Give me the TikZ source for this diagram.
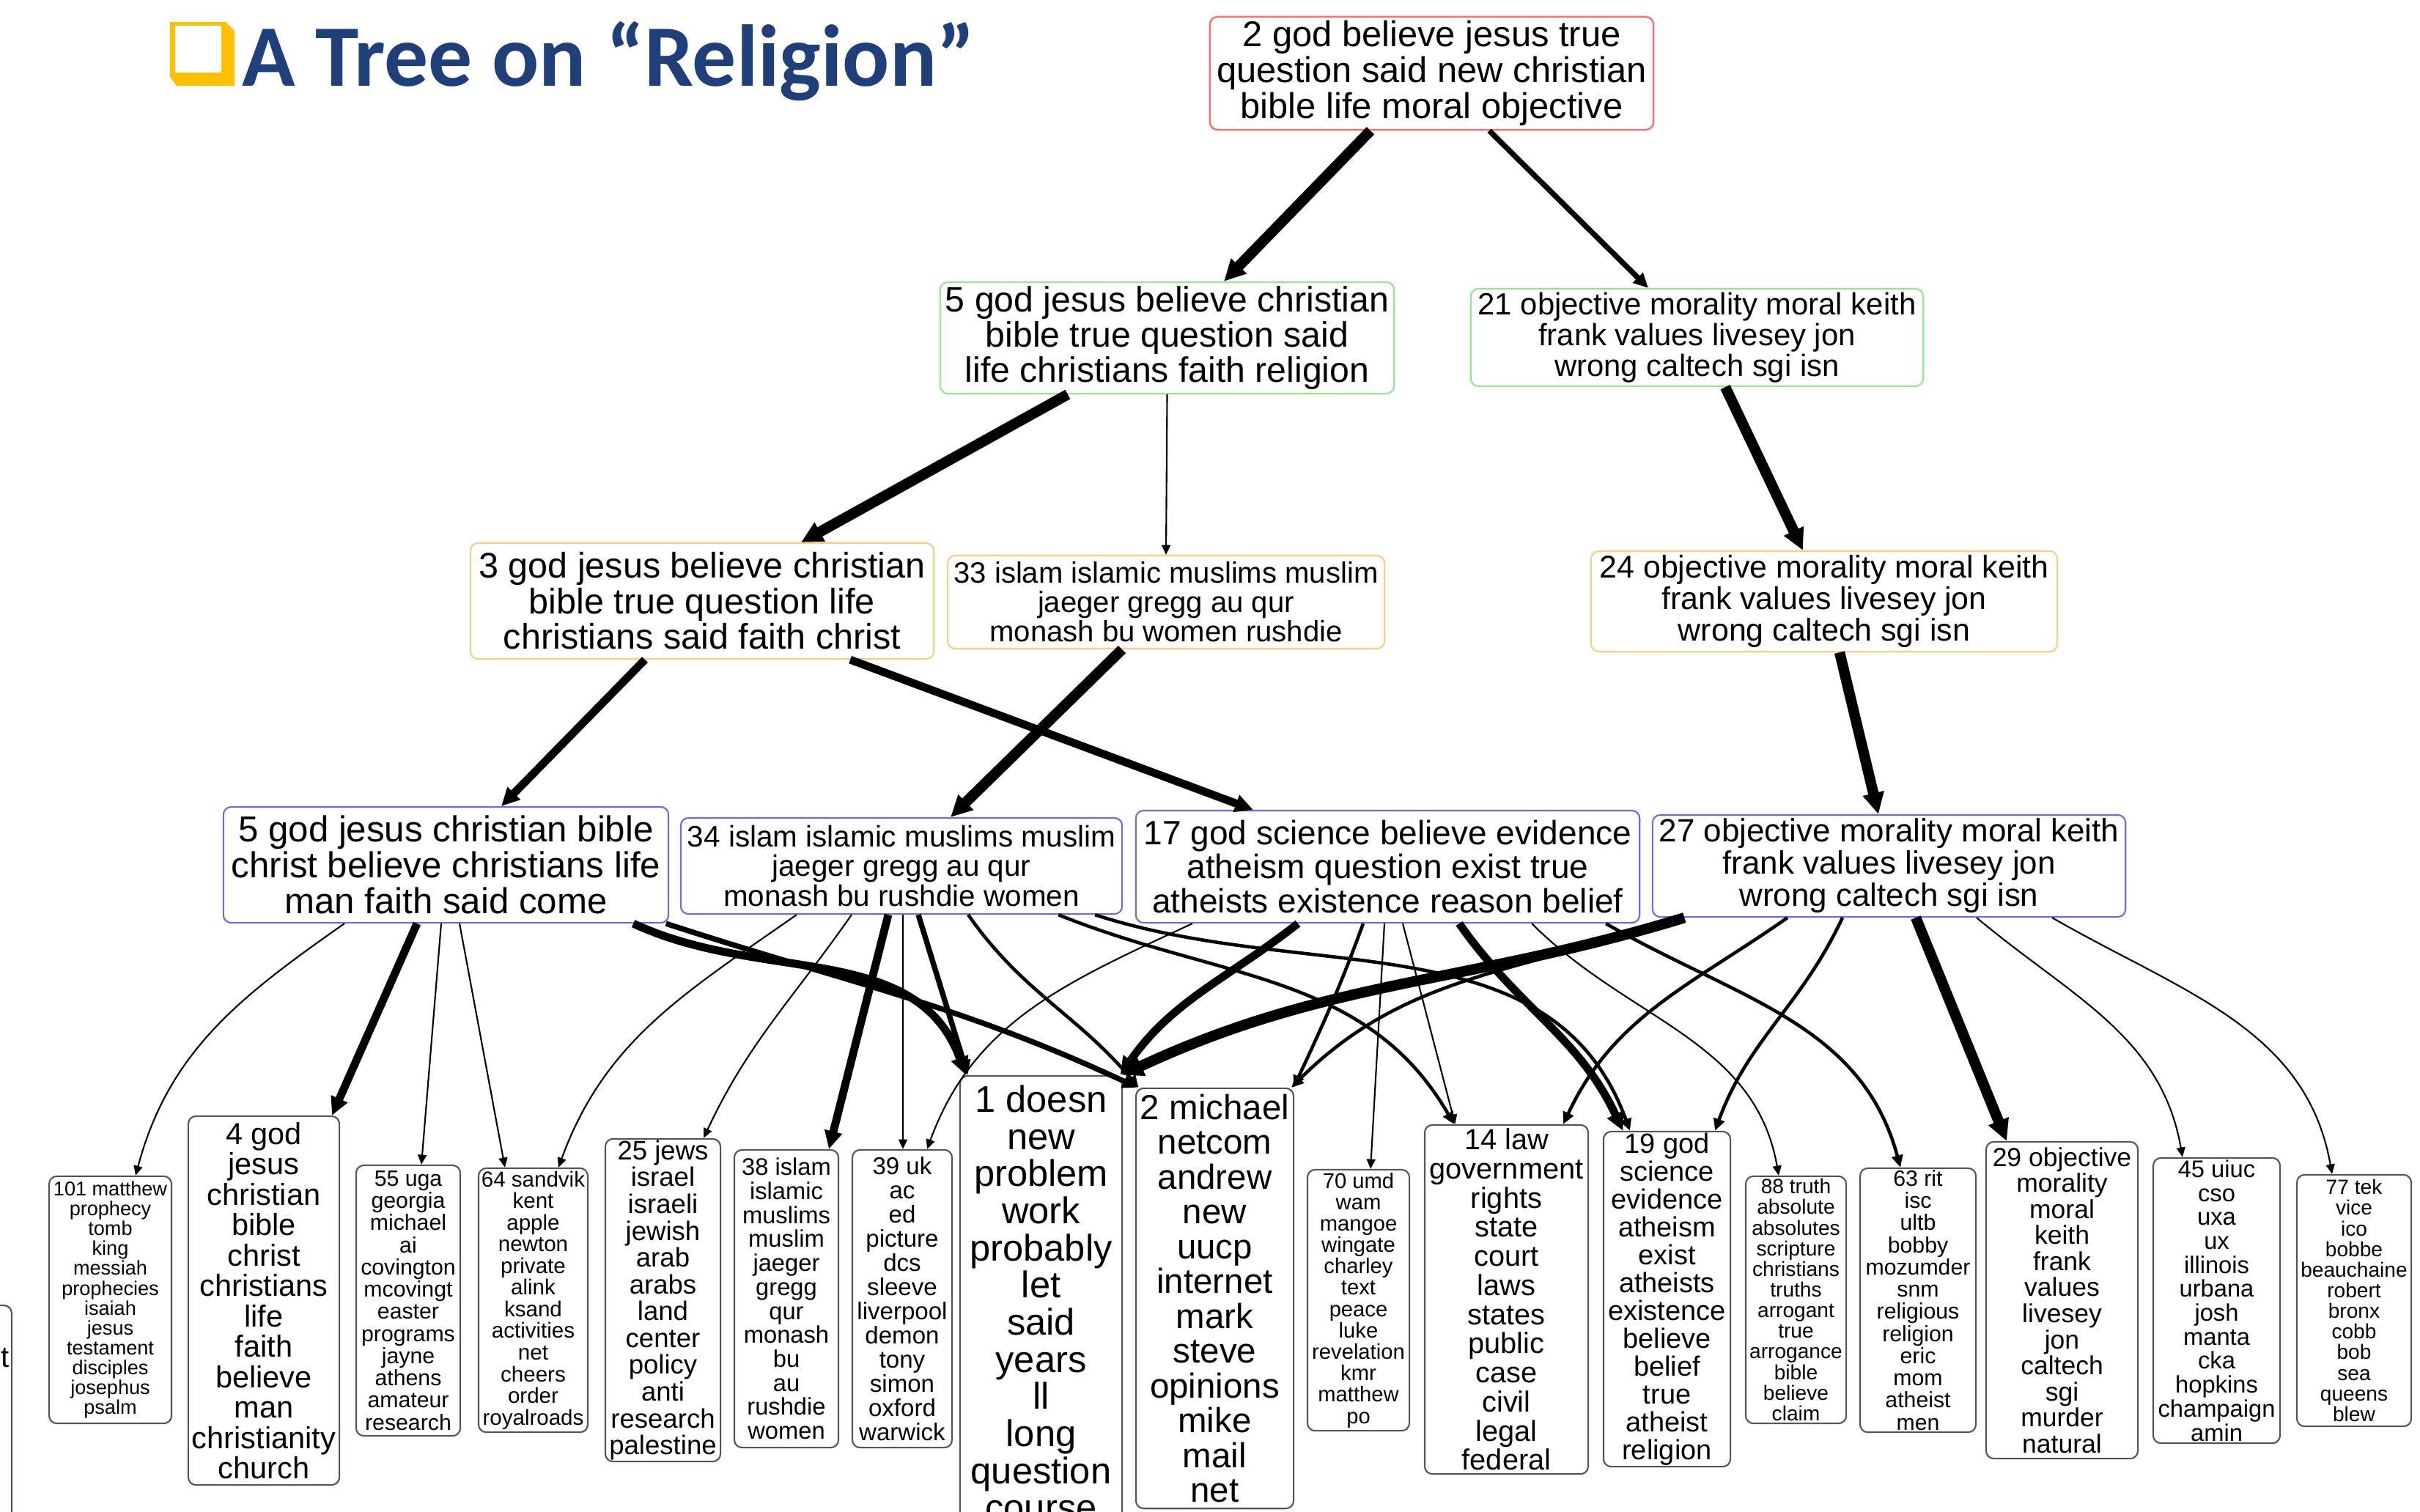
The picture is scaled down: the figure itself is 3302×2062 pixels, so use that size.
\documentclass[tikz,border=0pt]{standalone}
\usepackage{fontspec}
\setmainfont{Liberation Sans}
\newfontfamily\titlefont{Carlito}
\usetikzlibrary{arrows.meta}
\definecolor{titleblue}{RGB}{31,63,122}
\definecolor{iconyellow}{RGB}{255,192,0}
\definecolor{rootred}{RGB}{255,110,110}
\definecolor{midgreen}{RGB}{140,235,140}
\definecolor{midorange}{RGB}{250,205,130}
\definecolor{lowblue}{RGB}{105,105,245}
\definecolor{leafgray}{RGB}{85,85,85}
\newcommand{\fz}[1]{\fontsize{#1}{#1}\selectfont}

\begin{document}
\begin{tikzpicture}[x=0.01cm, y=-0.01cm,
  box/.style={draw, rounded corners=3pt, align=center, line width=0.6pt},
  toprow/.style={box, draw=rootred, line width=0.7pt},
  tworow/.style={box, draw=midgreen},
  threerow/.style={box, draw=midorange},
  fourrow/.style={box, draw=lowblue},
  leaf/.style={box, draw=leafgray},
  link1/.style={line width=0.6pt, -{Triangle[length=3pt 1.3, width=2.6pt 1.3]}},
  link2/.style={line width=1.3pt, -{Triangle[length=3pt 1.3, width=2.6pt 1.3]}},
  link3/.style={line width=2.1pt, -{Triangle[length=3pt 1.3, width=2.6pt 1.3]}},
  link4/.style={line width=3.1pt, -{Triangle[length=3pt 1.3, width=2.6pt 1.3]}},
  link5/.style={line width=4.1pt, -{Triangle[length=3pt 1.3, width=2.6pt 1.3]}}]
\tikzstyle{every node}+=[inner sep=0pt]
\useasboundingbox (0,0) rectangle (3302,2062);
\fill[white] (0,0) rectangle (3302,2062);

% title
\fill[iconyellow] (232,30) -- (308,30) -- (320,42) -- (320,117) -- (241,117) -- (232,105) -- cycle;
\fill[white] (239,35) rectangle (302,99);
\node[anchor=base west, text=titleblue, font=\titlefont\bfseries\fontsize{34}{40}\selectfont] (title) at (330,117) {A Tree on “Religion”};

% inner clusters
\node[toprow, font=\fz{13.9}, minimum width=6.05cm, minimum height=1.54cm] (n2) at (1953.5,100) {2 god believe jesus true\\question said new christian\\bible life moral objective};
\node[tworow, font=\fz{13.7}, minimum width=6.19cm, minimum height=1.52cm] (n5a) at (1592.5,461) {5 god jesus believe christian\\bible true question said\\life christians faith religion};
\node[tworow, font=\fz{11.9}, minimum width=6.17cm, minimum height=1.33cm] (n21) at (2315.5,460.5) {21 objective morality moral keith\\frank values livesey jon\\wrong caltech sgi isn};
\node[threerow, font=\fz{13.8}, minimum width=6.32cm, minimum height=1.58cm] (n3) at (958,820) {3 god jesus believe christian\\bible true question life\\christians said faith christ};
\node[threerow, font=\fz{11.4}, minimum width=5.96cm, minimum height=1.27cm] (n33) at (1591,821.5) {33 islam islamic muslims muslim\\jaeger gregg au qur\\monash bu women rushdie};
\node[threerow, font=\fz{12.2}, minimum width=6.36cm, minimum height=1.37cm] (n24) at (2489,820.5) {24 objective morality moral keith\\frank values livesey jon\\wrong caltech sgi isn};
\node[fourrow, font=\fz{14}, minimum width=6.07cm, minimum height=1.58cm] (n5b) at (608.5,1180) {5 god jesus christian bible\\christ believe christians life\\man faith said come};
\node[fourrow, font=\fz{11.5}, minimum width=6.02cm, minimum height=1.31cm] (n34) at (1230,1181.5) {34 islam islamic muslims muslim\\jaeger gregg au qur\\monash bu rushdie women};
\node[fourrow, font=\fz{13.1}, minimum width=6.87cm, minimum height=1.53cm] (n17) at (1893.5,1182.5) {17 god science believe evidence\\atheism question exist true\\atheists existence reason belief};
\node[fourrow, font=\fz{12.5}, minimum width=6.45cm, minimum height=1.39cm] (n27) at (2577.5,1181.5) {27 objective morality moral keith\\frank values livesey jon\\wrong caltech sgi isn};

% leaf clusters
\node[leaf, anchor=north east, minimum width=2cm, minimum height=3.2cm] (lx) at (17,1780) {};
\node[font=\fz{11.4}, anchor=east] (lxt) at (13,1853) {t};
\node[leaf, font=\fz{7.7}, minimum width=1.67cm, minimum height=3.37cm] (l101) at (150.5,1773.5) {101 matthew\\prophecy\\tomb\\king\\messiah\\prophecies\\isaiah\\jesus\\testament\\disciples\\josephus\\psalm};
\node[leaf, font=\fz{11.8}, minimum width=2.06cm, minimum height=5.03cm] (l4) at (360,1774.5) {4 god\\jesus\\christian\\bible\\christ\\christians\\life\\faith\\believe\\man\\christianity\\church};
\node[leaf, font=\fz{8.6}, minimum width=1.42cm, minimum height=3.69cm] (l55) at (557,1774.5) {55 uga\\georgia\\michael\\ai\\covington\\mcovingt\\easter\\programs\\jayne\\athens\\amateur\\research};
\node[leaf, font=\fz{8.4}, minimum width=1.49cm, minimum height=3.6cm] (l64) at (727.5,1774) {64 sandvik\\kent\\apple\\newton\\private\\alink\\ksand\\activities\\net\\cheers\\order\\royalroads};
\node[leaf, font=\fz{10.4}, minimum width=1.57cm, minimum height=4.4cm] (l25) at (904.5,1774) {25 jews\\israel\\israeli\\jewish\\arab\\arabs\\land\\center\\policy\\anti\\research\\palestine};
\node[leaf, font=\fz{9.3}, minimum width=1.42cm, minimum height=4.06cm] (l38) at (1073,1772) {38 islam\\islamic\\muslims\\muslim\\jaeger\\gregg\\qur\\monash\\bu\\au\\rushdie\\women};
\node[leaf, font=\fz{9.4}, minimum width=1.36cm, minimum height=4.06cm] (l39) at (1231,1772) {39 uk\\ac\\ed\\picture\\dcs\\sleeve\\liverpool\\demon\\tony\\simon\\oxford\\warwick};
\node[leaf, font=\fz{14.4}, minimum width=2.21cm, minimum height=6.2cm] (l1) at (1420.5,1778) {1 doesn\\new\\problem\\work\\probably\\let\\said\\years\\ll\\long\\question\\course};
\node[leaf, font=\fz{13.5}, minimum width=2.15cm, minimum height=5.73cm] (l2) at (1657.5,1771.5) {2 michael\\netcom\\andrew\\new\\uucp\\internet\\mark\\steve\\opinions\\mike\\mail\\net};
\node[leaf, font=\fz{8.3}, minimum width=1.39cm, minimum height=3.56cm] (l70) at (1853.5,1774) {70 umd\\wam\\mangoe\\wingate\\charley\\text\\peace\\luke\\revelation\\kmr\\matthew\\po};
\node[leaf, font=\fz{11.3}, minimum width=2.23cm, minimum height=4.76cm] (l14) at (2055.5,1773) {14 law\\government\\rights\\state\\court\\laws\\states\\public\\case\\civil\\legal\\federal};
\node[leaf, font=\fz{10.8}, minimum width=1.73cm, minimum height=4.57cm] (l19) at (2274.5,1772.5) {19 god\\science\\evidence\\atheism\\exist\\atheists\\existence\\believe\\belief\\true\\atheist\\religion};
\node[leaf, font=\fz{8}, minimum width=1.37cm, minimum height=3.37cm] (l88) at (2450.5,1773.5) {88 truth\\absolute\\absolutes\\scripture\\christians\\truths\\arrogant\\true\\arrogance\\bible\\believe\\claim};
\node[leaf, font=\fz{8.6}, minimum width=1.58cm, minimum height=3.6cm] (l63) at (2617,1774) {63 rit\\isc\\ultb\\bobby\\mozumder\\snm\\religious\\religion\\eric\\mom\\atheist\\men};
\node[leaf, font=\fz{10.1}, minimum width=2.07cm, minimum height=4.32cm] (l29) at (2813.5,1774) {29 objective\\morality\\moral\\keith\\frank\\values\\livesey\\jon\\caltech\\sgi\\murder\\natural};
\node[leaf, font=\fz{9.3}, minimum width=1.73cm, minimum height=3.89cm] (l45) at (3024.5,1774.5) {45 uiuc\\cso\\uxa\\ux\\illinois\\urbana\\josh\\manta\\cka\\hopkins\\champaign\\amin};
\node[leaf, font=\fz{8}, minimum width=1.56cm, minimum height=3.43cm] (l77) at (3212,1774.5) {77 tek\\vice\\ico\\bobbe\\beauchaine\\robert\\bronx\\cobb\\bob\\sea\\queens\\blew};

% upper edges
\draw[link5] ([xshift=-0.835cm]n2.south) -- ([xshift=0.775cm]n5a.north);
\draw[link3] ([xshift=0.785cm]n2.south) -- ([xshift=-0.665cm]n21.north);
\draw[link5] ([xshift=-1.355cm]n5a.south) -- ([xshift=1.35cm]n3.north);
\draw[link1] (n5a.south) -- (n33.north);
\draw[link5] ([xshift=0.385cm]n21.south) -- ([xshift=-0.29cm]n24.north);
\draw[link4] ([xshift=-0.78cm]n3.south) -- ([xshift=0.755cm]n5b.north);
\draw[link4] ([xshift=2.02cm]n3.south) -- ([xshift=-1.835cm]n17.north);
\draw[link5] ([xshift=-0.6cm]n33.south) -- ([xshift=0.67cm]n34.north);
\draw[link5] ([xshift=0.21cm]n24.south) -- ([xshift=-0.145cm]n27.north);

% edges to leaves
\draw[link1] ([xshift=-1.385cm]n5b.south) to[out=215,in=75] ([xshift=0.345cm]l101.north);
\draw[link4] ([xshift=-0.395cm]n5b.south) -- ([xshift=0.93cm]l4.north);
\draw[link1] ([xshift=-0.065cm]n5b.south) -- ([xshift=0.18cm]l55.north);
\draw[link1] ([xshift=0.185cm]n5b.south) -- ([xshift=-0.385cm]l64.north);
\draw[link4] ([xshift=2.555cm]n5b.south) to[out=-25,in=110] ([xshift=-1.025cm]l1.north);
\draw[link3] ([xshift=3cm]n5b.south) to[out=-18,in=155] ([xshift=-1.055cm]l2.north);

\draw[link1] ([xshift=-1.43cm]n34.south) to[out=215,in=70] ([xshift=0.345cm]l64.north);
\draw[link1] ([xshift=-0.68cm]n34.south) to[out=235,in=65] ([xshift=0.555cm]l25.north);
\draw[link4] ([xshift=-0.18cm]n34.south) -- ([xshift=0.58cm]l38.north);
\draw[link1] ([xshift=0.02cm]n34.south) -- ([xshift=0.01cm]l39.north);
\draw[link3] ([xshift=0.23cm]n34.south) -- ([xshift=-1cm]l1.north);
\draw[link2] ([xshift=0.91cm]n34.south) to[out=-55,in=130] ([xshift=-1.04cm]l2.north);
\draw[link2] ([xshift=2.14cm]n34.south) to[out=-22,in=120] ([xshift=-0.715cm]l14.north);
\draw[link2] ([xshift=2.64cm]n34.south) to[out=-18,in=110] ([xshift=-0.505cm]l19.north);

\draw[link1] ([xshift=-2.665cm]n17.south) to[out=205,in=70] ([xshift=0.34cm]l39.north);
\draw[link4] ([xshift=-1.225cm]n17.south) to[out=218,in=55] ([xshift=1.08cm]l1.north);
\draw[link2] ([xshift=-0.335cm]n17.south) to[out=250,in=65] ([xshift=1.075cm]l2.north);
\draw[link1] ([xshift=-0.045cm]n17.south) -- ([xshift=0.165cm]l70.north);
\draw[link1] ([xshift=0.205cm]n17.south) -- ([xshift=-0.7cm]l14.north);
\draw[link4] ([xshift=0.975cm]n17.south) to[out=-55,in=115] ([xshift=-0.6cm]l19.north);
\draw[link1] ([xshift=1.965cm]n17.south) to[out=-45,in=100] ([xshift=-0.235cm]l88.north);
\draw[link2] ([xshift=2.975cm]n17.south) to[out=-30,in=105] ([xshift=-0.24cm]l63.north);

\draw[link5] ([xshift=-2.79cm]n27.south) to[out=197,in=25] ([xshift=1.1cm]l1.north);
\draw[link2] ([xshift=-2.9cm]n27.south) to[out=200,in=45] ([xshift=1.045cm]l2.north);
\draw[link2] ([xshift=-1.385cm]n27.south) to[out=215,in=65] ([xshift=0.775cm]l14.north);
\draw[link2] ([xshift=-0.635cm]n27.south) to[out=245,in=70] ([xshift=0.655cm]l19.north);
\draw[link5] ([xshift=0.365cm]n27.south) -- ([xshift=-0.755cm]l29.north);
\draw[link1] ([xshift=1.195cm]n27.south) to[out=-40,in=100] ([xshift=-0.465cm]l45.north);
\draw[link1] ([xshift=2.225cm]n27.south) to[out=-30,in=100] ([xshift=-0.3cm]l77.north);
\end{tikzpicture}
\end{document}
